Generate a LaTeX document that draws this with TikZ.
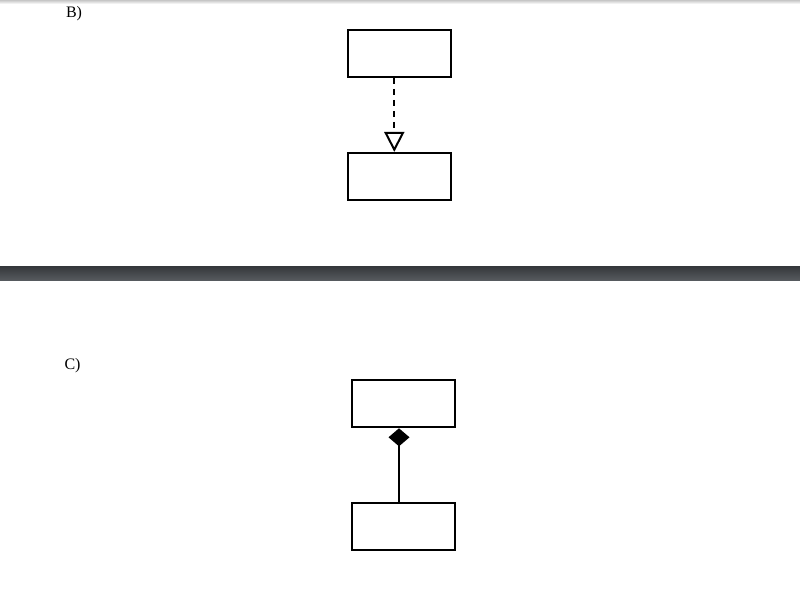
\documentclass[tikz,border=0pt]{standalone}
\usepackage{fontspec}
\setmainfont{Liberation Serif}
\usetikzlibrary{arrows.meta}
\definecolor{bandtop}{HTML}{34373A}
\definecolor{bandbot}{HTML}{565A5E}

\begin{document}
\begin{tikzpicture}[x=1pt,y=-1pt,line width=2pt,node distance=123pt,
    class/.style={rectangle,draw,minimum width=103pt,minimum height=47pt,inner sep=0pt},
    tag/.style={font=\fontsize{16}{19}\selectfont,inner sep=0pt},
    realize/.style={dash pattern=on 6pt off 5pt,-{Triangle[open,length=20pt,width=20pt]}},
    compose/.style={{Diamond[length=18pt,width=21pt]}-}]

            \useasboundingbox (0,0) rectangle (800,595);
            \shade[top color=gray!45,bottom color=white,draw=none] (0,0) rectangle (800,4);
            \shade[top color=bandtop,bottom color=bandbot,draw=none] (0,266) rectangle (800,280);

            % B)
            \node[tag] (lb) at (74,14) {B)};
            \node[class] (btop) at (399,53.4) {};
            \node[class] (bbot) [below of = btop] {};

            % C)
            \node[tag] (lc) at (72.5,366) {C)};
            \node[class] (ctop) at (403.2,403.8) {};
            \node[class] (cbot) [below of = ctop] {};

            \draw[realize] ([xshift=-4.7pt]btop.south) to ([xshift=-4.7pt]bbot.north);
            \draw[compose] ([xshift=-4.2pt]ctop.south) to ([xshift=-4.2pt]cbot.north);

            ;
        \end{tikzpicture}
\end{document}
